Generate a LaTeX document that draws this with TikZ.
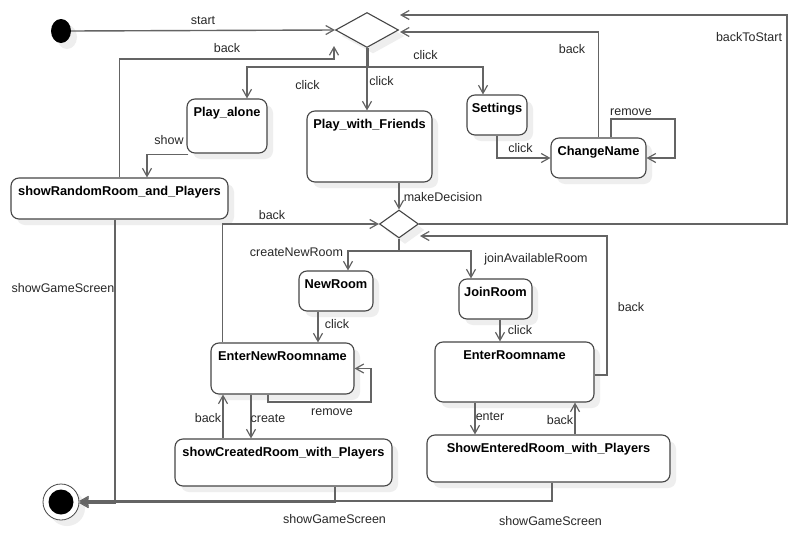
\documentclass[tikz,border=0pt]{standalone}
\usepackage{fontspec}
\setmainfont{Liberation Sans}
\usetikzlibrary{arrows.meta,shapes.geometric,shadows,calc}
\definecolor{ln}{RGB}{100,100,100}
\definecolor{bd}{RGB}{70,70,70}
\definecolor{sh}{RGB}{238,238,238}
\definecolor{tx}{RGB}{40,40,40}
\begin{document}
\begin{tikzpicture}[x=1pt,y=-1pt,
  shd/.style={general shadow={fill=sh, shadow xshift=6pt, shadow yshift=-6pt}},
  st/.style 2 args={draw=bd, line width=1.1pt, rounded corners=8pt, fill=white, inner sep=0pt, shd, minimum width=#1, minimum height=#2},
  sttext/.style={anchor=base, yshift=-18.5pt, font=\fontsize{12.8}{14}\selectfont\bfseries, text=black, inner sep=0pt},
  lbl/.style={anchor=base, font=\fontsize{12.5}{14}\selectfont, text=tx, inner sep=0pt},
  dia/.style 2 args={diamond, draw=bd, line width=1.1pt, fill=white, inner sep=0pt, shd, minimum width=#1, minimum height=#2},
  conn/.style={draw=ln, line width=1.4pt, -{Straight Barb[length=8pt,width=9pt,line width=1.2pt]}},
  plain/.style={draw=ln, line width=1.4pt}
]
\fill[white] (0,0) rectangle (798,533);
\useasboundingbox (0,0) rectangle (798,533);

% nodes
\node[ellipse, fill=black, minimum width=20pt, minimum height=24pt, inner sep=0pt, shd] (init) at (61,31) {};
\node[dia={63pt}{35pt}] (d1) at (367,30) {};
\node[st={80pt}{54pt}, label={[sttext]north:Play\_alone}] (pa) at (227,126) {};
\node[st={125pt}{71pt}, label={[sttext]north:Play\_with\_Friends}] (pwf) at (369.5,146.5) {};
\node[st={60pt}{40pt}, label={[sttext]north:Settings}] (set) at (497,115) {};
\node[st={95pt}{40pt}, label={[sttext]north:ChangeName}] (cn) at (598.5,158) {};
\node[st={217pt}{41pt}, label={[sttext]north:showRandomRoom\_and\_Players}] (srr) at (119.5,198.5) {};
\node[dia={39pt}{28pt}] (d2) at (399,224) {};
\node[st={74pt}{40pt}, label={[sttext]north:NewRoom}] (nr) at (336,291) {};
\node[st={73pt}{40pt}, label={[sttext]north:JoinRoom}] (jr) at (495.5,299) {};
\node[st={143pt}{51pt}, label={[sttext]north:EnterNewRoomname}] (enr) at (282.5,368.5) {};
\node[st={159pt}{60pt}, label={[sttext]north:EnterRoomname}] (er) at (514.5,372) {};
\node[st={217pt}{47pt}, label={[sttext]north:showCreatedRoom\_with\_Players}] (scr) at (283.5,462.5) {};
\node[st={243pt}{47pt}, label={[sttext]north:ShowEnteredRoom\_with\_Players}] (ser) at (548.5,458.5) {};
\node[circle, draw=bd, line width=0.8pt, fill=white, minimum size=36pt, inner sep=0pt, shd,
  path picture={\fill[black] (path picture bounding box.center) circle (12.5pt);}] (fin) at (61,502) {};

% helper coordinates
\coordinate (split1) at (367,67);
\coordinate (b1) at (334,46);
\coordinate (b1turn) at (334,59);
\coordinate (b2) at (400,32);
\coordinate (btsc) at (787,15);
\coordinate (b3) at (400,15);
\coordinate (cnloop) at (675,119);
\coordinate (split2) at (399,251);
\coordinate (erb) at (607,236);
\coordinate (b4) at (420,236);
\coordinate (enrloop) at (371,402);

% connectors
\draw[conn] (init.east) -- (d1.west);
\draw[draw=ln, line width=3pt] (d1.south) -- (split1);
\draw[conn] (split1) -| ($(pa.north)+(20,0)$);
\draw[conn] (split1) -- (split1 |- pwf.north);
\draw[conn] (split1) -| ($(set.north)+(-14,0)$);
\draw[conn] (srr.north) |- (b1turn) -- (b1);
\draw[conn] ($(pa.south west)+(2,1)$) -| ($(srr.north)+(27.5,0)$);
\draw[conn] (set.south) |- (cn.west);
\draw[conn] ($(cn.north)+(12.5,0)$) |- (cnloop) |- (cn.east);
\draw[conn] (cn.north) |- (b2);
\draw[conn] (d2.east) -| (btsc) -- (b3);
\draw[conn] (d2.north |- pwf.south) -- (d2.north);
\draw[plain] (d2.south) -- (split2);
\draw[conn] (split2) -| ($(nr.north)+(12,0)$);
\draw[conn] (split2) -| ($(jr.north)+(-24.5,0)$);
\draw[conn] ($(enr.north west)+(12,0)$) |- (d2.west);
\draw[conn] ($(er.east)+(0,3)$) -| (erb) -- (b4);
\draw[conn] ($(nr.south)+(-18,0)$) coordinate (t1) -- (t1 |- enr.north);
\draw[conn] ($(jr.south)+(4.5,0)$) coordinate (t2) -- (t2 |- er.north);
\draw[conn] ($(enr.south)+(-14.5,0)$) |- (enrloop) |- (enr.east);
\draw[conn] ($(enr.south)+(-31.5,0)$) coordinate (t3) -- (t3 |- scr.north);
\draw[conn] ($(scr.north)+(-60.5,0)$) coordinate (t4) -- (t4 |- enr.south);
\draw[conn] ($(er.south)+(-39.5,0)$) coordinate (t5) -- (t5 |- ser.north);
\draw[conn] ($(ser.north)+(26.5,0)$) coordinate (t6) -- (t6 |- er.south);
\draw[conn] ($(ser.south)+(3.5,0)$) |- ($(fin.east)+(0,-1.2)$);
\draw[conn] ($(scr.south)+(51.5,0)$) |- (fin.east);
\draw[conn] ($(srr.south)+(-4.5,0)$) |- ($(fin.east)+(0,1.2)$);

% labels
\node[lbl] (l1) at (203,24) {start};
\node[lbl] (l2) at (227,52) {back};
\node[lbl] (l3) at (307.5,89) {click};
\node[lbl] (l4) at (381.5,85) {click};
\node[lbl] (l5) at (425.5,59) {click};
\node[lbl] (l6) at (169,144) {show};
\node[lbl] (l7) at (520.5,152) {click};
\node[lbl] (l8) at (631,115) {remove};
\node[lbl] (l9) at (572,53) {back};
\node[lbl] (l10) at (749,41) {backToStart};
\node[lbl] (l11) at (63,292) {showGameScreen};
\node[lbl] (l12) at (443,201) {makeDecision};
\node[lbl] (l13) at (272,219) {back};
\node[lbl] (l14) at (296.5,256) {createNewRoom};
\node[lbl] (l15) at (536,262) {joinAvailableRoom};
\node[lbl] (l16) at (337,328) {click};
\node[lbl] (l17) at (520,334) {click};
\node[lbl] (l18) at (631,311) {back};
\node[lbl] (l19) at (332,415) {remove};
\node[lbl] (l20) at (208,422) {back};
\node[lbl] (l21) at (268,422) {create};
\node[lbl] (l22) at (490,420) {enter};
\node[lbl] (l23) at (560,424) {back};
\node[lbl] (l24) at (334.5,523) {showGameScreen};
\node[lbl] (l25) at (550.5,525) {showGameScreen};
\end{tikzpicture}
\end{document}
